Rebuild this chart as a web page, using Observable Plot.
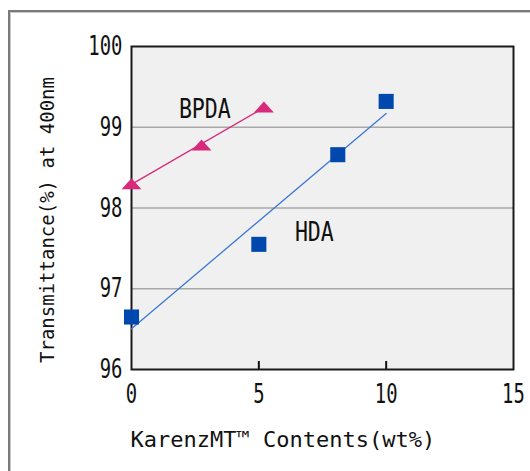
<!DOCTYPE html>
<html>
<head>
<meta charset="utf-8">
<script src="https://cdn.jsdelivr.net/npm/d3@7"></script>
<script src="https://cdn.jsdelivr.net/npm/@observablehq/plot@0.6"></script>
<style>
  html, body { margin: 0; padding: 0; background: #fff; overflow: hidden; }
  #wrap { position: relative; width: 530px; height: 471px; overflow: hidden; }
  #border { position: absolute; left: 8px; top: 10px; width: 600px; height: 600px;
            border-left: 2px solid #7a7a7a; border-top: 2px solid #7a7a7a;
            box-shadow: inset 1px 1px 0 #c8c8c8; }
  #chart { position: absolute; left: 0; top: 0; }
</style>
</head>
<body>
<div id="wrap"><div id="border"></div><div id="chart"></div></div>
<script>
// ---- data ----
const xTicks = [0, 5, 10, 15];
const yTicks = [96, 97, 98, 99, 100];
const yGridLines = [97, 98, 99];
const xInnerTicks = [5, 10];

const bpdaX = [0, 2.75, 5.2];
const bpdaY = [98.3, 98.78, 99.25];
const hdaX = [0, 5, 8.1, 10];
const hdaY = [96.65, 97.55, 98.66, 99.32];

const seriesNames = ["BPDA", "HDA"];
const labelX = [2.88, 7.18];
const labelY = [99.22, 97.70];

const xTitle = "KarenzMT\u2122 Contents(wt%)";
const yTitle = "Transmittance(%) at 400nm";

// ---- tables built from the arrays ----
const bpda = bpdaX.map((x, i) => ({x, y: bpdaY[i]}));
const hda = hdaX.map((x, i) => ({x, y: hdaY[i]}));
const labels = seriesNames.map((name, i) => ({name, x: labelX[i], y: labelY[i]}));

const pink = "#d8297a";
const blueDot = "#0048ad";
const blueLine = "#3c78d6";

// flat up-pointing triangle symbol
const flatTriangle = {
  draw(context, size) {
    const s = Math.sqrt(size);
    const w = s * 1.3, h = s * 0.72;
    context.moveTo(0, -h / 2);
    context.lineTo(w / 2, h / 2);
    context.lineTo(-w / 2, h / 2);
    context.closePath();
  }
};

const chart = Plot.plot({
  width: 530,
  height: 471,
  marginLeft: 131,
  marginRight: 17,
  marginTop: 46,
  marginBottom: 102,
  style: {fontFamily: "'DejaVu Sans Mono', monospace", background: "transparent", color: "#111"},
  x: {domain: [0, 15]},
  y: {domain: [96, 100]},
  marks: [
    Plot.frame({fill: "#f0f0f0"}),
    Plot.gridY(yGridLines, {stroke: "#a8a8a8", strokeOpacity: 1, strokeWidth: 1.5}),
    Plot.ruleX(xInnerTicks, {insetTop: 315, stroke: "#111", strokeWidth: 2}),
    Plot.frame({stroke: "#1a1a1a", strokeWidth: 2}),
    Plot.axisX(xTicks, {tickSize: 0, tickPadding: 14, fontSize: 27, label: null, tickFormat: d => String(d)}),
    Plot.axisY(yTicks, {tickSize: 0, tickPadding: 9, fontSize: 27, label: null, tickFormat: d => String(d)}),
    Plot.linearRegressionY(bpda, {x: "x", y: "y", ci: 0, stroke: pink, strokeWidth: 1.3}),
    Plot.linearRegressionY(hda, {x: "x", y: "y", ci: 0, stroke: blueLine, strokeWidth: 1.3}),
    Plot.dot(bpda, {x: "x", y: "y", symbol: flatTriangle, r: 8.6, fill: pink, stroke: "none"}),
    Plot.dot(hda, {x: "x", y: "y", symbol: "square", r: 8.5, fill: blueDot, stroke: "none"}),
    Plot.text(labels, {x: "x", y: "y", text: "name", fontSize: 26, fill: "#111"}),
    Plot.text([xTitle], {frameAnchor: "bottom-left", textAnchor: "start", dx: -1, dy: 77, fontSize: 22, fill: "#111"}),
    Plot.text([yTitle], {frameAnchor: "left", textAnchor: "middle", rotate: -90, dx: -84, dy: 12, fontSize: 19, fill: "#111"})
  ]
});

// condense the tall, narrow text like the original bitmap font
const scaleBySize = {"27": 0.7, "26": 0.83, "22": 1, "19": 1};
chart.querySelectorAll("g").forEach(g => {
  const fs = g.getAttribute("font-size");
  if (!fs) return;
  const sx = scaleBySize[String(parseFloat(fs))];
  if (!sx || sx === 1) return;
  g.querySelectorAll(":scope > text").forEach(t => {
    let tr = t.getAttribute("transform");
    if (!tr) {
      const x = t.getAttribute("x") || 0, y = t.getAttribute("y") || 0;
      t.removeAttribute("x"); t.removeAttribute("y");
      tr = `translate(${x},${y})`;
    }
    t.setAttribute("transform", `${tr} scale(${sx},1)`);
  });
});

document.getElementById("chart").appendChild(chart);
</script>
</body>
</html>
